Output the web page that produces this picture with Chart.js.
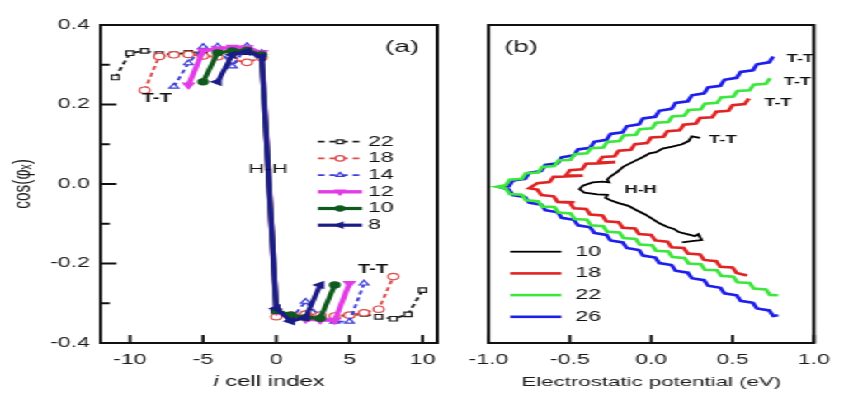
<!DOCTYPE html>
<html>
<head>
<meta charset="utf-8">
<script src="https://cdn.jsdelivr.net/npm/chart.js@4.4.1/dist/chart.umd.min.js"></script>
<style>
  html, body { margin: 0; padding: 0; background: #fff; }
  body { width: 844px; height: 403px; overflow: hidden; position: relative; }
  /* the reference figure is stretched sideways, so the whole stage is too */
  #stage { position: absolute; left: 0; top: 0; width: 512px; height: 403px;
           transform: scaleX(1.65); transform-origin: 0 0; }
  #ca { position: absolute; left: 0; top: 0; }
  #cb { position: absolute; left: 275px; top: 0; }
</style>
</head>
<body>
<div id="stage">
  <canvas id="ca" width="275" height="403"></canvas>
  <canvas id="cb" width="237" height="403"></canvas>
</div>
<script>
// ---- panel (a): cos(phi_x) against cell index, one series per chain length
const cells22 = [-11,-10,-9,-8,-7,-6,-5,-4,-3,-2,-1,0,1,2,3,4,5,6,7,8,9,10];
const cos22 = [0.268,0.329,0.335,0.327,0.326,0.330,0.332,0.333,0.333,0.332,0.329,-0.320,-0.333,-0.333,-0.333,-0.332,-0.330,-0.327,-0.334,-0.339,-0.328,-0.267];
const cells18 = [-9,-8,-7,-6,-5,-4,-3,-2,-1,0,1,2,3,4,5,6,7,8];
const cos18 = [0.236,0.321,0.325,0.326,0.322,0.320,0.312,0.306,0.318,-0.334,-0.330,-0.327,-0.330,-0.332,-0.330,-0.324,-0.315,-0.233];
const cells14 = [-7,-6,-5,-4,-3,-2,-1,0,1,2,3,4,5,6];
const cos14 = [0.245,0.304,0.345,0.346,0.296,0.347,0.330,-0.320,-0.340,-0.296,-0.335,-0.346,-0.346,-0.250];
const cells12 = [-6,-5,-4,-3,-2,-1,0,1,2,3,4,5];
const cos12 = [0.249,0.335,0.340,0.344,0.343,0.330,-0.320,-0.335,-0.340,-0.342,-0.343,-0.250];
const cells10 = [-5,-4,-3,-2,-1,0,1,2,3,4];
const cos10 = [0.257,0.330,0.335,0.336,0.325,-0.318,-0.330,-0.336,-0.338,-0.254];
const cells8 = [-4,-3,-2,-1,0,1,2,3];
const cos8 = [0.257,0.325,0.333,0.320,-0.313,-0.345,-0.336,-0.254];

// ---- panel (b): cos(phi_x) against electrostatic potential (eV)
const pot10 = [0.30,0.25,0.23,0.19,0.13,0.07,0.03,-0.01,-0.05,-0.09,-0.13,-0.17,-0.21,-0.25,-0.27,-0.26,-0.30,-0.36,-0.42,-0.44,-0.41,-0.33,-0.27,-0.28,-0.25,-0.20,-0.14,-0.09,-0.04,0.00,0.05,0.10,0.14,0.17,0.22,0.27,0.29,0.31,0.25,0.19];
const cosB10 = [0.116,0.120,0.108,0.100,0.094,0.089,0.080,0.077,0.068,0.060,0.052,0.044,0.030,0.019,0.011,0.004,0.006,0.004,-0.004,-0.013,-0.022,-0.026,-0.027,-0.035,-0.041,-0.048,-0.055,-0.066,-0.076,-0.086,-0.099,-0.108,-0.113,-0.121,-0.126,-0.131,-0.126,-0.141,-0.144,-0.147];
const pot18 = [0.60,0.575,0.50,0.475,0.40,0.375,0.30,0.275,0.20,0.175,0.10,0.075,0.00,-0.025,-0.10,-0.125,-0.20,-0.225,-0.30,-0.325,-0.22,-0.33,-0.40,-0.425,-0.50,-0.525,-0.42,-0.53,-0.60,-0.625,-0.70,-0.75,
  -0.70,-0.675,-0.60,-0.575,-0.47,-0.58,-0.50,-0.475,-0.40,-0.375,-0.30,-0.275,-0.20,-0.175,-0.10,-0.075,0.00,0.025,0.10,0.125,0.20,0.225,0.30,0.325,0.40,0.425,0.50,0.525,0.59];
const cosB18 = [0.215,0.201,0.198,0.184,0.182,0.168,0.166,0.152,0.149,0.135,0.133,0.119,0.117,0.103,0.100,0.086,0.084,0.070,0.068,0.054,0.055,0.052,0.051,0.037,0.035,0.021,0.021,0.019,0.018,0.005,0.002,-0.011,
  -0.014,-0.028,-0.031,-0.045,-0.046,-0.046,-0.047,-0.061,-0.063,-0.077,-0.079,-0.094,-0.096,-0.110,-0.112,-0.126,-0.128,-0.142,-0.145,-0.159,-0.161,-0.175,-0.177,-0.191,-0.194,-0.208,-0.210,-0.224,-0.230];
const pot22 = [0.73,0.705,0.63,0.605,0.53,0.505,0.43,0.405,0.33,0.305,0.23,0.205,0.13,0.105,0.03,0.005,-0.07,-0.095,-0.17,-0.195,-0.27,-0.295,-0.37,-0.395,-0.47,-0.495,-0.57,-0.595,-0.67,-0.695,-0.77,-0.795,-0.87,-0.895,-0.95,
  -0.895,-0.87,-0.795,-0.77,-0.695,-0.67,-0.595,-0.57,-0.495,-0.47,-0.395,-0.37,-0.295,-0.27,-0.195,-0.17,-0.095,-0.07,0.005,0.03,0.105,0.13,0.205,0.23,0.305,0.33,0.405,0.43,0.505,0.53,0.605,0.63,0.705,0.73,0.78];
const cosB22 = [0.266,0.252,0.250,0.236,0.234,0.220,0.218,0.204,0.202,0.188,0.186,0.172,0.170,0.156,0.154,0.140,0.138,0.124,0.122,0.108,0.106,0.092,0.090,0.077,0.075,0.061,0.059,0.045,0.043,0.029,0.027,0.013,0.011,-0.003,-0.007,
  -0.011,-0.025,-0.027,-0.041,-0.043,-0.057,-0.058,-0.072,-0.074,-0.088,-0.090,-0.104,-0.106,-0.120,-0.122,-0.136,-0.138,-0.152,-0.154,-0.168,-0.170,-0.184,-0.186,-0.200,-0.202,-0.216,-0.217,-0.231,-0.233,-0.247,-0.249,-0.263,-0.265,-0.279,-0.280];
const pot26 = [0.75,0.725,0.65,0.625,0.55,0.525,0.45,0.425,0.35,0.325,0.25,0.225,0.15,0.125,0.05,0.025,-0.05,-0.075,-0.15,-0.175,-0.25,-0.275,-0.35,-0.375,-0.45,-0.475,-0.55,-0.575,-0.65,-0.675,-0.75,-0.775,-0.85,-0.875,-0.92,
  -0.875,-0.85,-0.775,-0.75,-0.675,-0.65,-0.575,-0.55,-0.475,-0.45,-0.375,-0.35,-0.275,-0.25,-0.175,-0.15,-0.075,-0.05,0.025,0.05,0.125,0.15,0.225,0.25,0.325,0.35,0.425,0.45,0.525,0.55,0.625,0.65,0.725,0.75,0.78];
const cosB26 = [0.321,0.306,0.301,0.286,0.282,0.267,0.262,0.247,0.243,0.228,0.223,0.208,0.204,0.189,0.184,0.169,0.165,0.150,0.145,0.130,0.126,0.111,0.106,0.091,0.087,0.072,0.067,0.052,0.048,0.033,0.028,0.013,0.009,-0.006,-0.009,
  -0.014,-0.028,-0.033,-0.047,-0.052,-0.066,-0.071,-0.085,-0.090,-0.104,-0.109,-0.123,-0.128,-0.142,-0.147,-0.161,-0.166,-0.180,-0.185,-0.199,-0.204,-0.218,-0.223,-0.237,-0.242,-0.256,-0.261,-0.275,-0.280,-0.294,-0.299,-0.313,-0.318,-0.332,-0.330];

// ---- ticks
const xTicksA = [-10, -5, 0, 5, 10];
const yTicks = [-0.4, -0.2, 0, 0.2, 0.4];
const yMinor = [-0.3, -0.1, 0.1, 0.3];
const xTicksB = [-1, -0.5, 0, 0.5, 1];

function xy(xs, ys) { return xs.map((x, i) => ({ x: x, y: ys[i] })); }

Chart.defaults.font.family = "'Liberation Sans', Arial, sans-serif";
Chart.defaults.color = '#1a1a1a';

const FONT = "'Liberation Sans', Arial, sans-serif";

function frameAndTicks(chart, xVals, xLen, yMajor, yMinorVals) {
  const { ctx, chartArea: a, scales } = chart;
  ctx.save();
  ctx.strokeStyle = '#111';
  ctx.lineWidth = 2;
  ctx.strokeRect(a.left, a.top, a.right - a.left, a.bottom - a.top);
  ctx.lineWidth = 1.8;
  ctx.beginPath();
  xVals.forEach(v => {
    const p = scales.x.getPixelForValue(v);
    ctx.moveTo(p, a.bottom); ctx.lineTo(p, a.bottom - xLen);
  });
  (yMajor || []).forEach(v => {
    const p = scales.y.getPixelForValue(v);
    ctx.moveTo(a.left, p); ctx.lineTo(a.left + 9.5, p);
  });
  (yMinorVals || []).forEach(v => {
    const p = scales.y.getPixelForValue(v);
    ctx.moveTo(a.left, p); ctx.lineTo(a.left + 5.5, p);
  });
  ctx.stroke();
  ctx.restore();
}

function labelsAt(chart, notes) {
  const { ctx, scales } = chart;
  ctx.save();
  ctx.fillStyle = '#111';
  ctx.textBaseline = 'middle';
  notes.forEach(n => {
    ctx.font = n.font;
    ctx.textAlign = n.align || 'center';
    ctx.fillText(n.text, scales.x.getPixelForValue(n.x), scales.y.getPixelForValue(n.y));
  });
  ctx.restore();
}

const decorA = {
  id: 'decorA',
  afterDraw(chart) {
    const { ctx, chartArea: a } = chart;
    frameAndTicks(chart, xTicksA, 8, [-0.2, 0, 0.2], yMinor);
    labelsAt(chart, [
      { text: '(a)', x: 8.6, y: 0.345, font: '17px ' + FONT },
      { text: 'T-T', x: -8.16, y: 0.214, font: 'bold 12px ' + FONT },
      { text: 'H-H', x: -0.56, y: 0.038, font: '13.5px ' + FONT },
      { text: 'T-T', x: 6.6, y: -0.216, font: 'bold 12px ' + FONT }
    ]);
    // legend inside the plot, in dataset order
    ctx.save();
    chart.data.datasets.forEach((ds, i) => {
      const y = a.top + 116.7 + i * 16.7;
      const x0 = a.left + 131.7, x1 = a.left + 158.4;
      ctx.strokeStyle = ds.borderColor;
      ctx.lineWidth = ds.borderWidth;
      ctx.setLineDash(ds.borderDash || []);
      ctx.beginPath(); ctx.moveTo(x0, y); ctx.lineTo(x1, y); ctx.stroke();
      ctx.setLineDash([]);
      ctx.fillStyle = ds.pointBackgroundColor;
      ctx.strokeStyle = ds.pointBorderColor;
      ctx.lineWidth = ds.pointBorderWidth;
      Chart.helpers.drawPoint(ctx, {
        pointStyle: ds.pointStyle, rotation: ds.pointRotation || 0,
        radius: ds.pointRadius * 0.85, borderWidth: ds.pointBorderWidth
      }, (x0 + x1) / 2, y);
      ctx.fillStyle = '#111';
      ctx.font = '14px ' + FONT;
      ctx.textAlign = 'left'; ctx.textBaseline = 'middle';
      ctx.fillText(ds.label, a.left + 162, y);
    });
    // x title with an italic i
    const cx = (a.left + a.right) / 2, ty = 382;
    ctx.font = 'italic 14.5px ' + FONT;
    const wi = ctx.measureText('i').width;
    ctx.font = '14.5px ' + FONT;
    const wr = ctx.measureText(' cell index').width;
    const sx = cx - (wi + wr) / 2;
    ctx.textAlign = 'left'; ctx.textBaseline = 'middle';
    ctx.font = 'italic 14.5px ' + FONT;
    ctx.fillText('i', sx, ty);
    ctx.font = '14.5px ' + FONT;
    ctx.fillText(' cell index', sx + wi, ty);
    ctx.restore();
  }
};

const decorB = {
  id: 'decorB',
  afterDraw(chart) {
    const { ctx, chartArea: a } = chart;
    frameAndTicks(chart, xTicksB, 8, [], []);
    labelsAt(chart, [
      { text: '(b)', x: -0.80, y: 0.345, font: '17px ' + FONT },
      { text: 'T-T', x: 0.833, y: 0.314, font: 'bold 11px ' + FONT, align: 'left' },
      { text: 'T-T', x: 0.815, y: 0.257, font: 'bold 11px ' + FONT, align: 'left' },
      { text: 'T-T', x: 0.696, y: 0.203, font: 'bold 11px ' + FONT, align: 'left' },
      { text: 'T-T', x: 0.357, y: 0.111, font: 'bold 11px ' + FONT, align: 'left' },
      { text: 'H-H', x: -0.065, y: -0.015, font: 'bold 11px ' + FONT }
    ]);
    ctx.save();
    chart.data.datasets.forEach((ds, i) => {
      const y = a.top + 226.7 + i * 21.7;
      ctx.strokeStyle = ds.borderColor;
      ctx.lineWidth = ds.borderWidth;
      ctx.beginPath(); ctx.moveTo(a.left + 13.2, y); ctx.lineTo(a.left + 44.2, y); ctx.stroke();
      ctx.fillStyle = '#111';
      ctx.font = '14px ' + FONT;
      ctx.textAlign = 'left'; ctx.textBaseline = 'middle';
      ctx.fillText(ds.label, a.left + 52.6, y);
    });
    ctx.restore();
  }
};

function seriesA(label, xs, ys, color, style, opts) {
  return Object.assign({
    label: label, data: xy(xs, ys), showLine: true, tension: 0,
    borderColor: color, borderWidth: 1.8,
    pointStyle: style, pointRadius: 3.2, pointBorderWidth: 1.2,
    pointBorderColor: color, pointBackgroundColor: '#fff'
  }, opts || {});
}

const dash = [4, 3];
new Chart(document.getElementById('ca'), {
  type: 'scatter',
  data: {
    datasets: [
      seriesA('22', cells22, cos22, '#1e1e1e', 'rect', { borderDash: dash, order: 6 }),
      seriesA('18', cells18, cos18, '#dc4a4a', 'circle', { borderDash: dash, order: 5 }),
      seriesA('14', cells14, cos14, '#3e3ed8', 'triangle', { borderDash: dash, order: 4 }),
      seriesA('12', cells12, cos12, '#e23ce6', 'triangle', { borderWidth: 3.4, pointRotation: 180, pointRadius: 3.8, pointBackgroundColor: '#e23ce6', order: 3 }),
      seriesA('10', cells10, cos10, '#0f5a1e', 'circle', { borderWidth: 3.2, pointRadius: 3, pointBackgroundColor: '#0f5a1e', order: 2 }),
      seriesA('8', cells8, cos8, '#1c1c86', 'triangle', { borderWidth: 3.2, pointRotation: -90, pointRadius: 3.8, pointBackgroundColor: '#1c1c86', order: 1 })
    ]
  },
  options: {
    responsive: false, animation: false,
    layout: { padding: { top: 25, right: 10, left: 0, bottom: 0 } },
    plugins: { legend: { display: false }, tooltip: { enabled: false } },
    scales: {
      x: {
        type: 'linear', min: -12, max: 11,
        afterBuildTicks: s => { s.ticks = xTicksA.map(v => ({ value: v })); },
        afterFit: s => { s.height = 60; },
        grid: { display: false, drawTicks: false }, border: { display: false },
        ticks: { padding: 9, autoSkip: false, maxRotation: 0, font: { size: 14 }, callback: v => String(v) }
      },
      y: {
        type: 'linear', min: -0.4, max: 0.4,
        afterBuildTicks: s => { s.ticks = yTicks.map(v => ({ value: v })); },
        afterFit: s => { s.width = 61; },
        grid: { display: false, drawTicks: false }, border: { display: false },
        ticks: { padding: 6.5, font: { size: 14 }, callback: v => v.toFixed(1) },
        title: { display: true, text: 'cos(φₓ)', font: { size: 15.5 }, padding: { top: 4, bottom: 0 } }
      }
    }
  },
  plugins: [decorA]
});

function seriesB(label, xs, ys, color, width) {
  return { label: label, data: xy(xs, ys), showLine: true, tension: 0,
           borderColor: color, borderWidth: width, pointRadius: 0 };
}

new Chart(document.getElementById('cb'), {
  type: 'scatter',
  data: {
    datasets: [
      seriesB('10', pot10, cosB10, '#000000', 1.8),
      seriesB('18', pot18, cosB18, '#e02424', 2.6),
      seriesB('22', pot22, cosB22, '#3ce63c', 2.6),
      seriesB('26', pot26, cosB26, '#1e1eea', 2.6)
    ]
  },
  options: {
    responsive: false, animation: false,
    layout: { padding: { top: 25, right: 17.5, left: 16, bottom: 0 } },
    plugins: { legend: { display: false }, tooltip: { enabled: false } },
    scales: {
      x: {
        type: 'linear', min: -1, max: 1,
        afterBuildTicks: s => { s.ticks = xTicksB.map(v => ({ value: v })); },
        afterFit: s => { s.height = 60; },
        grid: { display: false, drawTicks: false }, border: { display: false },
        ticks: { padding: 9, autoSkip: false, maxRotation: 0, font: { size: 14 }, callback: v => v.toFixed(1) },
        title: { display: true, text: 'Electrostatic potential (eV)', font: { size: 13.5 }, padding: { top: 0, bottom: 13 } }
      },
      y: { type: 'linear', min: -0.4, max: 0.4, display: false }
    }
  },
  plugins: [decorB]
});
</script>
</body>
</html>
